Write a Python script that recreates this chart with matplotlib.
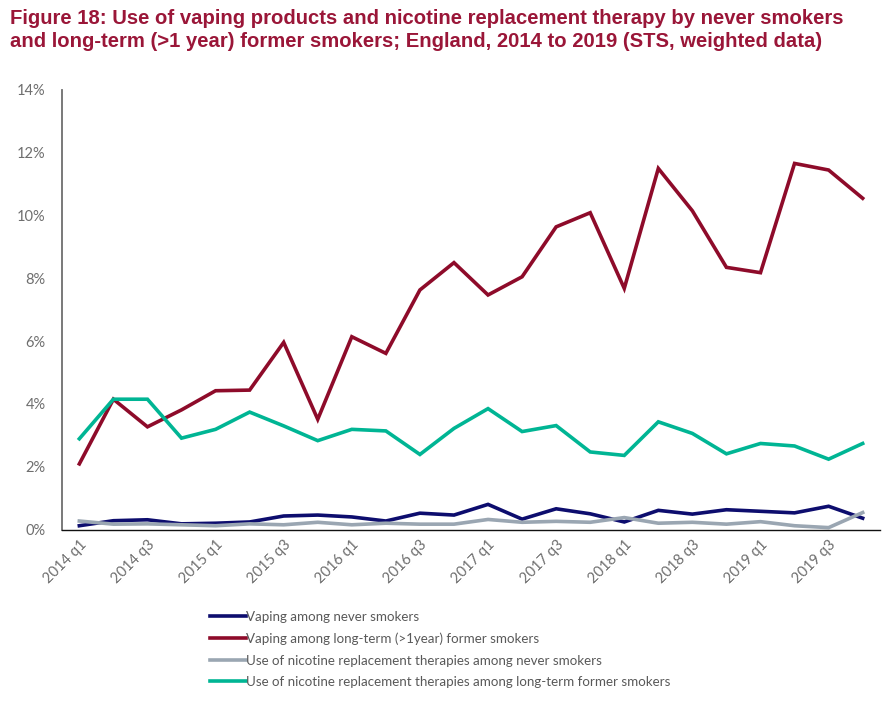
import matplotlib
matplotlib.use("Agg")
import matplotlib.pyplot as plt
from matplotlib.ticker import FuncFormatter, MultipleLocator

quarters = [f"{y} q{q}" for y in range(2014, 2020) for q in range(1, 5)]

vaping_never = [0.12, 0.28, 0.31, 0.18, 0.20, 0.24, 0.43, 0.46, 0.40, 0.27, 0.52, 0.46,
                0.80, 0.33, 0.66, 0.50, 0.24, 0.61, 0.49, 0.63, 0.58, 0.53, 0.74, 0.36]
vaping_former = [2.09, 4.15, 3.27, 3.81, 4.42, 4.44, 5.96, 3.51, 6.14, 5.61, 7.63, 8.50,
                 7.47, 8.05, 9.64, 10.09, 7.68, 11.50, 10.15, 8.35, 8.18, 11.66, 11.45, 10.55]
nrt_never = [0.27, 0.17, 0.18, 0.15, 0.12, 0.18, 0.15, 0.23, 0.15, 0.20, 0.17, 0.17,
             0.32, 0.23, 0.26, 0.23, 0.38, 0.20, 0.23, 0.17, 0.25, 0.12, 0.06, 0.54]
nrt_former = [2.89, 4.15, 4.15, 2.91, 3.19, 3.74, 3.30, 2.83, 3.19, 3.14, 2.39, 3.22,
              3.85, 3.12, 3.31, 2.47, 2.36, 3.43, 3.06, 2.41, 2.74, 2.66, 2.24, 2.74]

labels = ["Vaping among never smokers",
          "Vaping among long-term (>1year) former smokers",
          "Use of nicotine replacement therapies among never smokers",
          "Use of nicotine replacement therapies among long-term former smokers"]
colors = ["#0D0D6E", "#8E0B2A", "#9AA6B2", "#00B594"]

title = ("Figure 18: Use of vaping products and nicotine replacement therapy by never smokers\n"
         "and long-term (>1 year) former smokers; England, 2014 to 2019 (STS, weighted data)")

fig = plt.figure(figsize=(8.94, 7.14), dpi=100)
ax = fig.add_axes([0.0697, 0.2584, 0.9143, 0.6156])

x = list(range(len(quarters)))
series = [vaping_never, vaping_former, nrt_never, nrt_former]
handles = []
for s, c, l in zip(series, colors, labels):
    h, = ax.plot(x, s, color=c, lw=2.6, solid_joinstyle="miter", label=l)
    handles.append(h)

ax.set_xlim(-0.5, len(quarters) - 0.5)
ax.set_ylim(0, 14)
ax.yaxis.set_major_locator(MultipleLocator(2))
ax.yaxis.set_major_formatter(FuncFormatter(lambda v, p: f"{v:.0f}%"))
ax.set_xticks(x[::2])
ax.set_xticklabels(quarters[::2], rotation=45, ha="right", rotation_mode="anchor")

for sp in ["top", "right"]:
    ax.spines[sp].set_visible(False)
ax.spines["left"].set_color("#6E6E6E")
ax.spines["left"].set_linewidth(1.3)
ax.spines["bottom"].set_color("#111111")
ax.spines["bottom"].set_linewidth(1.0)
ax.tick_params(axis="both", length=0, colors="#6E6E6E", labelsize=10.5)
ax.tick_params(axis="y", pad=12)
ax.tick_params(axis="x", pad=6)
for t in ax.get_xticklabels() + ax.get_yticklabels():
    t.set_fontfamily("Lato")
    t.set_color("#6E6E6E")

fig.text(0.011, 0.988, title, ha="left", va="top", fontsize=14.6, fontweight="bold",
         color="#9A1638", family="Liberation Sans", linespacing=1.3)

leg = fig.legend(handles=handles, labels=labels, loc="upper left",
                 bbox_to_anchor=(0.229, 0.152), frameon=False, handlelength=2.7,
                 handletextpad=0.0, labelspacing=0.72, borderaxespad=0,
                 prop={"family": "Lato", "size": 9.6})
for t in leg.get_texts():
    t.set_color("#595959")

fig.savefig("out.png", dpi=100)
